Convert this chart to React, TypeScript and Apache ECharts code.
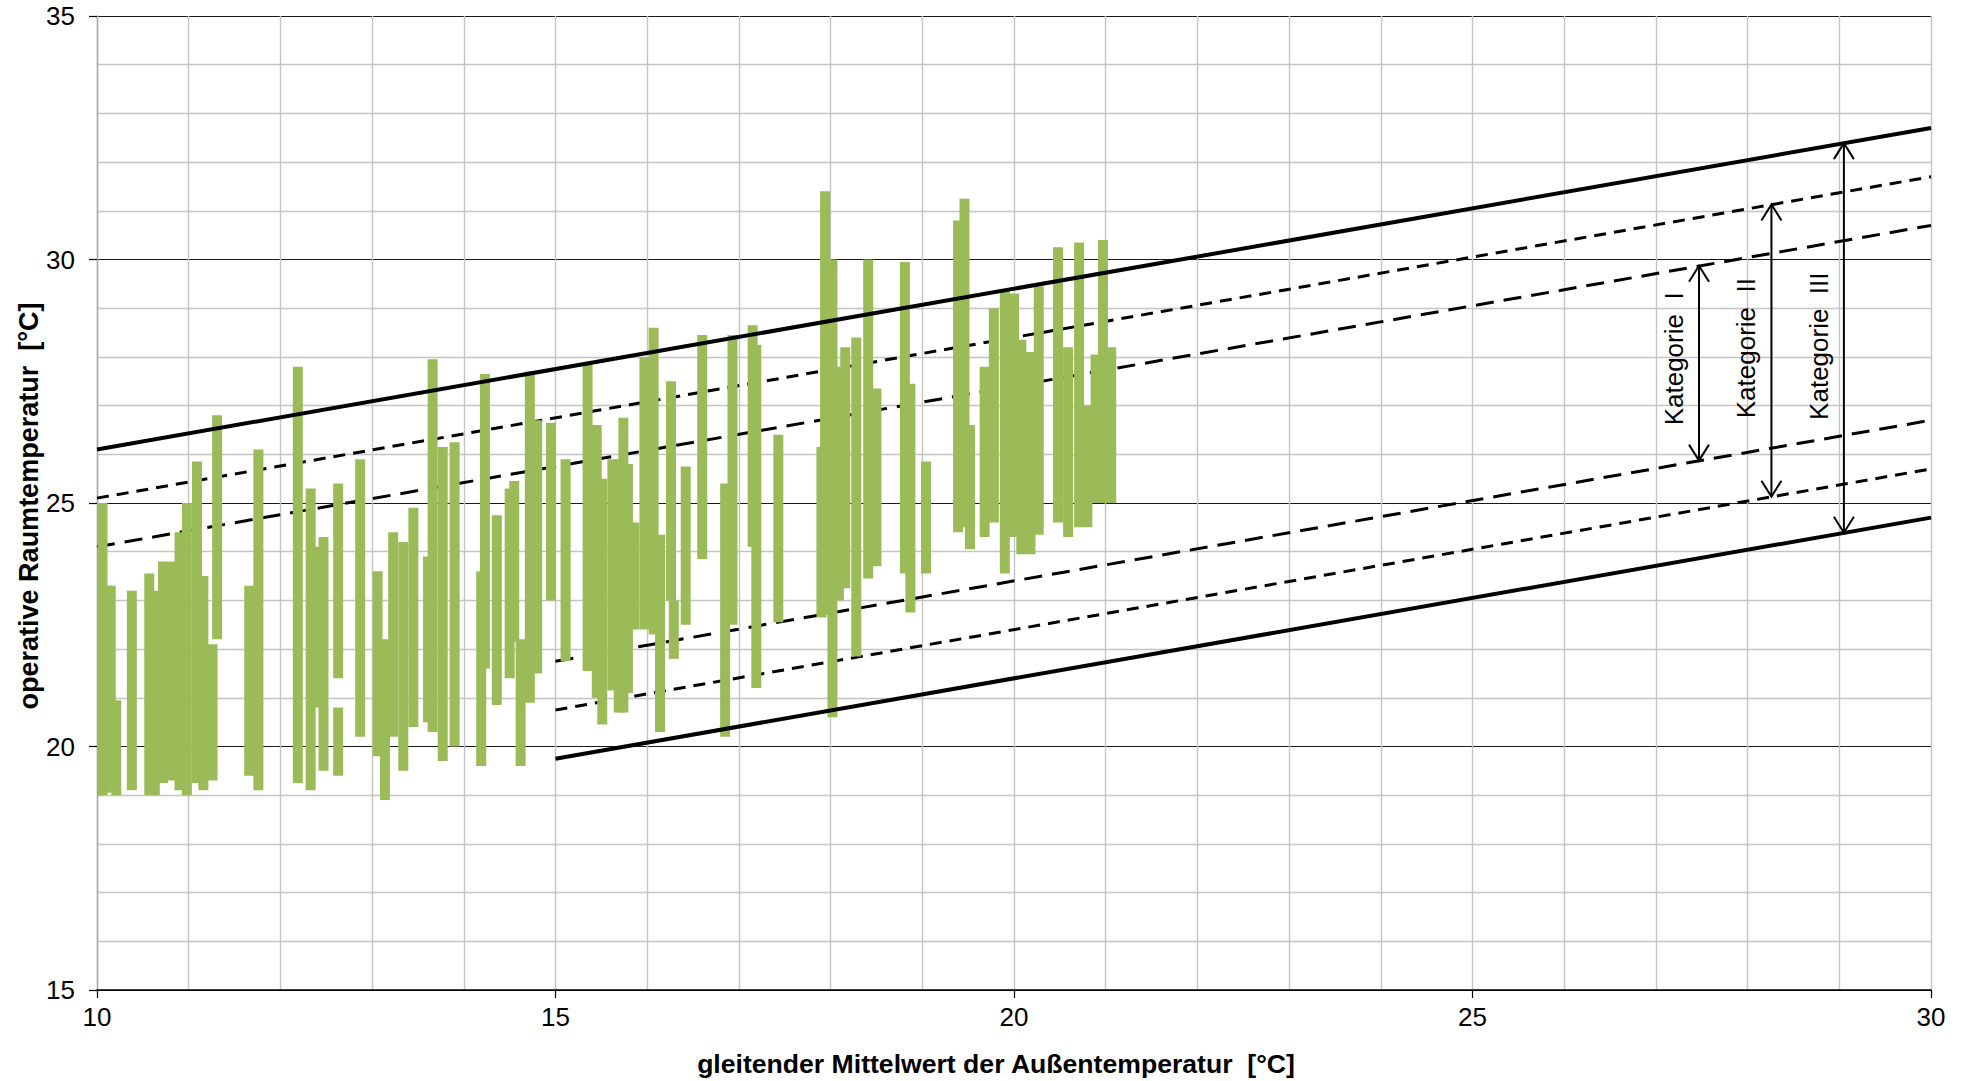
import React, { useEffect, useRef } from 'react';
import * as echarts from 'echarts';

const FONT = '"Liberation Sans", Arial, Helvetica, sans-serif';

// Measured points, read as vertical runs of markers: x, lowest and highest value
const segX = [
  10.0, 10.06, 10.1, 10.15, 10.21, 10.38, 10.57, 10.63, 10.72, 10.82, 10.9, 10.98, 11.09, 11.16, 11.26, 11.31, 11.66, 11.76,
  12.19, 12.33, 12.4, 12.47, 12.63, 12.63, 12.87, 13.06, 13.14, 13.23, 13.34, 13.45, 13.61, 13.66, 13.77, 13.9,
  14.19, 14.23, 14.36, 14.5, 14.55, 14.62, 14.72, 14.8, 14.95, 15.11, 15.35, 15.45, 15.51, 15.62, 15.69,
  15.74, 15.79, 15.86, 15.97, 16.07, 16.14, 16.26, 16.29, 16.42, 16.6, 16.85, 16.93, 17.15, 17.19, 17.43, 17.9,
  17.94, 18.02, 18.09, 18.16, 18.28, 18.41, 18.5, 18.81, 18.87, 19.04, 19.39, 19.46, 19.52, 19.68, 19.78, 19.9,
  20.0, 20.08, 20.18, 20.27, 20.48, 20.59, 20.71, 20.8, 20.89, 20.97, 21.06,
];
const segLow = [
  19.0, 19.0, 19.05, 19.1, 19.0, 19.1, 19.0, 19.0, 19.25, 19.3, 19.1, 19.0, 19.25, 19.1, 19.3, 22.2, 19.4, 19.1,
  19.25, 19.1, 20.8, 19.5, 21.4, 19.4, 20.2, 19.8, 18.9, 20.2, 19.5, 20.4, 20.5, 20.3, 19.7, 20.0,
  19.6, 21.6, 20.85, 21.4, 22.15, 19.6, 20.9, 21.5, 23.0, 21.75, 21.55, 21.0, 20.45, 21.15, 20.7,
  20.7, 21.1, 22.4, 22.4, 22.3, 20.3, 23.0, 21.8, 22.5, 23.85, 20.2, 22.5, 24.1, 21.2, 22.55, 22.65,
  22.7, 20.6, 23.0, 23.25, 21.85, 23.45, 23.7, 23.55, 22.75, 23.55, 24.4, 24.5, 24.05, 24.3, 24.6, 23.55,
  24.3, 23.95, 23.95, 24.35, 24.6, 24.3, 24.5, 24.5, 25.0, 25.0, 25.0,
];
const segHigh = [
  23.0, 25.0, 23.3, 23.3, 20.95, 23.2, 23.55, 23.2, 23.8, 23.8, 24.4, 25.0, 25.85, 23.5, 22.1, 26.8, 23.3, 26.1,
  27.8, 25.3, 24.1, 24.3, 25.4, 20.8, 25.9, 23.6, 22.2, 24.4, 24.2, 24.9, 23.9, 27.95, 26.15, 26.25,
  23.6, 27.65, 24.75, 25.3, 25.45, 22.2, 27.7, 26.7, 26.65, 25.9, 27.85, 26.6, 25.5, 25.9, 25.9,
  26.75, 25.8, 24.6, 28.0, 28.6, 24.35, 27.5, 23.0, 25.75, 28.45, 25.4, 28.45, 28.65, 28.25, 26.4, 26.15,
  31.4, 30.0, 27.8, 28.2, 28.4, 30.0, 27.35, 29.95, 27.45, 25.85, 30.8, 31.25, 26.6, 27.8, 29.0, 29.35,
  29.3, 28.35, 28.1, 29.45, 30.25, 28.2, 30.35, 27.0, 28.05, 30.4, 28.2,
];

// Comfort limits (start and end points)
const catIIIUpper = [[10, 26.1], [30, 32.7]];
const catIIUpper = [[10, 25.1], [30, 31.7]];
const catIUpper = [[10, 24.1], [30, 30.7]];
const catILower = [[15, 21.75], [30, 26.7]];
const catIILower = [[15, 20.75], [30, 25.7]];
const catIIILower = [[15, 19.75], [30, 24.7]];

// Category arrows
const arrowLabels = ['Kategorie  I', 'Kategorie  II', 'Kategorie  III'];
const arrowX = [27.47, 28.26, 29.05];
const arrowTop = [29.87, 31.13, 32.39];
const arrowBottom = [25.87, 25.13, 24.39];
const arrowLabelY = [27.96, 28.18, 28.22];

const xTitle = 'gleitender Mittelwert der Außentemperatur  [°C]';
const yTitle = 'operative Raumtemperatur  [°C]';

const GREEN = '#9BBB59';

function buildOption(): any {
  const segData = segX.map((x, i) => [x, segLow[i], segHigh[i]]);
  const arrowData = arrowX.map((x, i) => [x, arrowTop[i], arrowBottom[i], arrowLabelY[i]]);

  const solid = (data: number[][]) => ({
    type: 'line',
    data,
    symbol: 'none',
    silent: true,
    z: 4,
    lineStyle: { color: '#000', width: 4, type: 'solid', cap: 'butt' },
  });
  const dashed = (data: number[][], dash: number[], width: number) => ({
    type: 'line',
    data,
    symbol: 'none',
    silent: true,
    z: 2,
    lineStyle: { color: '#000', width, type: dash, cap: 'butt' },
  });

  return {
    animation: false,
    backgroundColor: '#fff',
    grid: { left: 97, right: 39, top: 16, bottom: 91, containLabel: false },
    xAxis: {
      type: 'value',
      min: 10,
      max: 30,
      interval: 5,
      axisLine: { show: true, onZero: false, lineStyle: { color: '#000', width: 1.5 } },
      axisTick: { show: true, length: 8, lineStyle: { color: '#000', width: 1.2 } },
      axisLabel: { fontSize: 26, color: '#000', margin: 14, fontFamily: FONT },
      splitLine: { show: true, lineStyle: { color: '#c4c4c4', width: 1.4 } },
      minorTick: { show: false, splitNumber: 5 },
      minorSplitLine: { show: true, lineStyle: { color: '#c4c4c4', width: 1.4 } },
    },
    yAxis: {
      type: 'value',
      min: 15,
      max: 35,
      interval: 5,
      axisLine: { show: true, onZero: false, lineStyle: { color: '#a8a8a8', width: 1.4 } },
      axisTick: { show: true, length: 8, lineStyle: { color: '#000', width: 1.2 } },
      axisLabel: { fontSize: 26, color: '#000', margin: 22, fontFamily: FONT },
      splitLine: { show: true, lineStyle: { color: '#1a1a1a', width: 1.2 } },
      minorTick: { show: false, splitNumber: 5 },
      minorSplitLine: { show: true, lineStyle: { color: '#c4c4c4', width: 1.4 } },
    },
    series: [
      dashed(catIIUpper, [12, 8], 3),
      dashed(catIUpper, [18, 10], 3),
      dashed(catILower, [18, 10], 3),
      dashed(catIILower, [12, 8], 3),
      {
        type: 'custom',
        name: 'Messwerte',
        z: 3,
        clip: true,
        silent: true,
        data: segData,
        encode: { x: 0, y: [1, 2] },
        renderItem: (params: any, api: any) => {
          const x = api.value(0);
          const lo = api.value(1);
          const hi = api.value(2);
          const pTop = api.coord([x, hi]);
          const pBot = api.coord([x, lo]);
          return {
            type: 'rect',
            shape: { x: pTop[0] - 5, y: pTop[1], width: 10, height: pBot[1] - pTop[1] },
            style: { fill: GREEN },
          };
        },
      },
      solid(catIIIUpper),
      solid(catIIILower),
      {
        type: 'custom',
        name: 'Kategorien',
        z: 5,
        silent: true,
        data: arrowData,
        encode: { x: 0, y: [1, 2] },
        renderItem: (params: any, api: any) => {
          const x = api.value(0);
          const top = api.coord([x, api.value(1)]);
          const bot = api.coord([x, api.value(2)]);
          const lab = api.coord([x, api.value(3)]);
          const px = top[0];
          const hw = 10;
          const hl = 16;
          const stroke = { stroke: '#000', lineWidth: 2, fill: 'none' };
          return {
            type: 'group',
            children: [
              { type: 'line', shape: { x1: px, y1: top[1], x2: px, y2: bot[1] }, style: stroke },
              {
                type: 'polyline',
                shape: { points: [[px - hw, top[1] + hl], [px, top[1]], [px + hw, top[1] + hl]] },
                style: stroke,
              },
              {
                type: 'polyline',
                shape: { points: [[px - hw, bot[1] - hl], [px, bot[1]], [px + hw, bot[1] - hl]] },
                style: stroke,
              },
              {
                type: 'text',
                x: px - 25,
                y: lab[1],
                rotation: Math.PI / 2,
                style: {
                  text: arrowLabels[params.dataIndex],
                  fill: '#000',
                  fontSize: 26,
                  fontFamily: FONT,
                  align: 'center',
                  verticalAlign: 'middle',
                },
              },
            ],
          };
        },
      },
    ],
    graphic: [
      {
        type: 'text',
        x: 996,
        y: 1064,
        silent: true,
        style: {
          text: xTitle,
          fill: '#000',
          fontSize: 26.6,
          fontWeight: 'bold',
          fontFamily: FONT,
          align: 'center',
          verticalAlign: 'middle',
        },
      },
      {
        type: 'text',
        x: 29,
        y: 506,
        rotation: Math.PI / 2,
        silent: true,
        style: {
          text: yTitle,
          fill: '#000',
          fontSize: 27,
          fontWeight: 'bold',
          fontFamily: FONT,
          align: 'center',
          verticalAlign: 'middle',
        },
      },
    ],
  };
}

export default function App() {
  const ref = useRef<HTMLDivElement>(null);
  useEffect(() => {
    document.body.style.margin = '0';
    document.body.style.overflow = 'hidden';
    const chart = echarts.init(ref.current as HTMLDivElement, null, { renderer: 'svg' });
    chart.setOption(buildOption());
    return () => {
      chart.dispose();
    };
  }, []);
  return <div ref={ref} style={{ width: 1970, height: 1081 }} />;
}
